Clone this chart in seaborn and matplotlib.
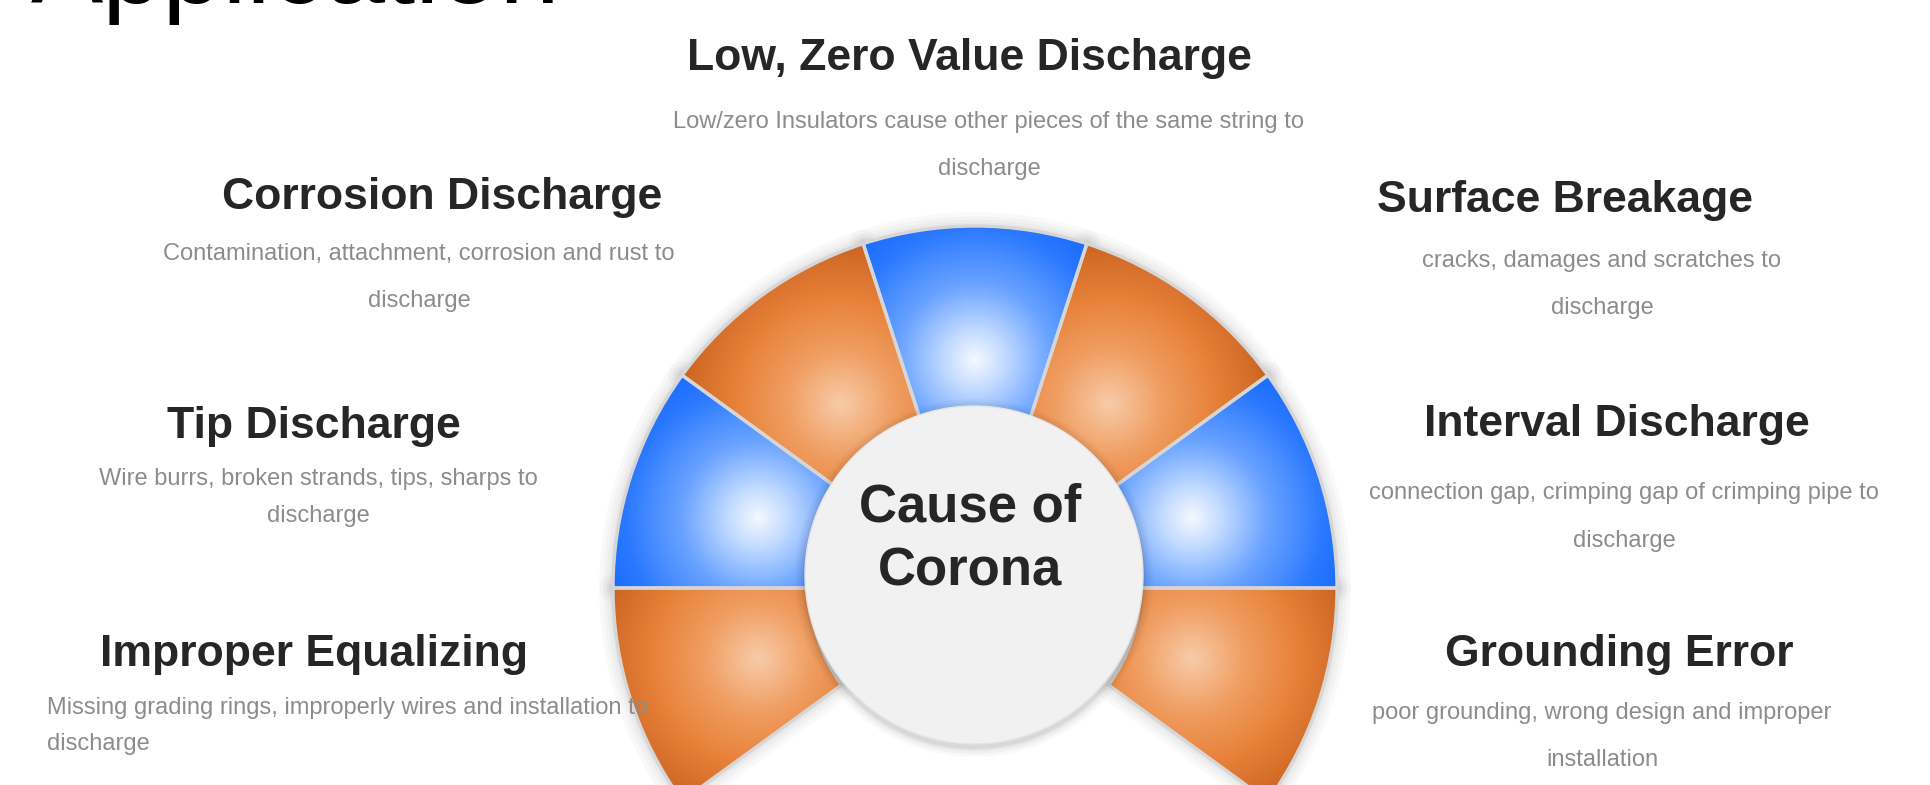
import numpy as np
import matplotlib
matplotlib.use("Agg")
import matplotlib.pyplot as plt
import matplotlib.patheffects as pe
from matplotlib.colors import LinearSegmentedColormap
from matplotlib.patches import Circle
import seaborn as sns

# data: seven causes, equal share, drawn as an open fan (the hidden gap takes the rest)
causes = ["Grounding Error", "Interval Discharge", "Surface Breakage",
          "Low, Zero Value Discharge", "Corrosion Discharge", "Tip Discharge",
          "Improper Equalizing"]
shares = [1, 1, 1, 1, 1, 1, 1]
gap_share = 3
tones = ["orange", "blue", "orange", "blue", "orange", "blue", "orange"]
descriptions = [
    ["poor grounding, wrong design and improper", "installation"],
    ["connection gap, crimping gap of crimping pipe to", "discharge"],
    ["cracks, damages and scratches to", "discharge"],
    ["Low/zero Insulators cause other pieces of the same string to", "discharge"],
    ["Contamination, attachment, corrosion and rust to", "discharge"],
    ["Wire burrs, broken strands, tips, sharps to", "discharge"],
    ["Missing grading rings, improperly wires and installation to", "discharge"],
]
center_label = ["Cause of", "Corona"]
heading = "Application"

sns.set_theme(style="white")
plt.rcParams["font.family"] = ["Liberation Sans", "DejaVu Sans"]

W, H = 1931, 785
fig = plt.figure(figsize=(W / 100, H / 100), dpi=100)
ax = fig.add_axes([0, 0, 1, 1])

cx, cy = 975, H - 588
R_OUT, R_IN = 362, 165

cmaps = {
    "orange": LinearSegmentedColormap.from_list(
        "o", [(0, "#f8cba8"), (0.28, "#f09e62"), (0.55, "#e8823a"), (0.8, "#cf6925"), (1, "#a54c15")]),
    "blue": LinearSegmentedColormap.from_list(
        "b", [(0, "#f4f8ff"), (0.15, "#c4dcff"), (0.4, "#6aa3ff"), (0.7, "#2a78ff"), (1, "#0a62ff")]),
}

pie_kw = dict(startangle=-36, counterclock=True, center=(cx, cy), radius=R_OUT)

# soft shadow layer under the segments
glow = [pe.Stroke(linewidth=lw, foreground="#000000", alpha=0.022, joinstyle="round")
        for lw in (20, 14, 9, 5)] + [pe.Normal()]
base, _ = ax.pie(shares + [gap_share], colors=["#e0e0e0"] * len(shares) + ["none"],
                 wedgeprops=dict(width=R_OUT - R_IN, edgecolor="#e6e6e6", linewidth=0.8), **pie_kw)
base[-1].set_visible(False)
for w in base:
    w.set_zorder(1)
    w.set_path_effects(glow)

# gradient fill for each segment, clipped to its wedge
x0, x1 = cx - 375, cx + 375
xs = np.arange(x0, x1) + 0.5
ys = np.arange(0, H) + 0.5
X, Y = np.meshgrid(xs, ys)
for w, tone in zip(base[:-1], tones):
    mid = np.deg2rad((w.theta1 + w.theta2) / 2)
    rh = w.r - w.width * 0.68
    hx, hy = cx + rh * np.cos(mid), cy + rh * np.sin(mid)
    d = np.hypot(X - hx, Y - hy) / 190
    rgba = cmaps[tone](np.clip(d, 0, 1))
    im = ax.imshow(rgba, extent=(x0, x1, 0, H), origin="lower", zorder=2,
                   interpolation="bilinear")
    im.set_clip_path(w)

# light separators between the segments
seps, _ = ax.pie(shares + [gap_share], colors=["none"] * (len(shares) + 1),
                 wedgeprops=dict(width=R_OUT - R_IN, edgecolor="#d6d6d6", linewidth=2.4,
                                 joinstyle="round"), **pie_kw)
seps[-1].set_visible(False)
for w in seps:
    w.set_zorder(3)

# centre disc with soft shadow
ccx, ccy, cr = 974, H - 575, 169
for k, a in [(10, 0.025), (7, 0.035), (4, 0.045), (2, 0.055)]:
    ax.add_patch(Circle((ccx, ccy - 3), cr + k, fc="#000000", ec="none", alpha=a, zorder=4))
ax.add_patch(Circle((ccx, ccy), cr, fc="#f1f1f1", ec="#e4e4e4", lw=1, zorder=4))

title_kw = dict(fontsize=32, fontweight="bold", color="#262626", zorder=5)
desc_kw = dict(fontsize=17, color="#8c8c8c", zorder=5)

# layout: title x, title baseline, desc x, first desc baseline, line step, desc alignment
layout = [
    (1619, 666, 1602, 719, 47, "center"),
    (1617, 436, 1624, 499, 48, "center"),
    (1565, 212, 1602, 267, 47, "center"),
    (969, 70, 989, 128, 47, "center"),
    (442, 209, 419, 260, 47, "center"),
    (314, 438, 318, 485, 37, "center"),
    (314, 666, 47, 714, 36, "left"),
]
for name, lines, (tx, ty, dx, dy, step, ha) in zip(causes, descriptions, layout):
    ax.text(tx, H - ty, name, ha="center", va="baseline", **title_kw)
    for i, line in enumerate(lines):
        ax.text(dx, H - dy - i * step, line, ha=ha, va="baseline", **desc_kw)

for i, line in enumerate(center_label):
    ax.text(970, H - 522 - i * 63, line, ha="center", va="baseline",
            fontsize=38, fontweight="bold", color="#262626", zorder=6)

ax.text(31, H - 3, heading, ha="left", va="baseline", fontsize=78, color="#000000", zorder=5)

ax.set_xlim(0, W)
ax.set_ylim(0, H)
ax.set_aspect("equal")
ax.axis("off")
fig.savefig("out.png", dpi=100, facecolor="white")
